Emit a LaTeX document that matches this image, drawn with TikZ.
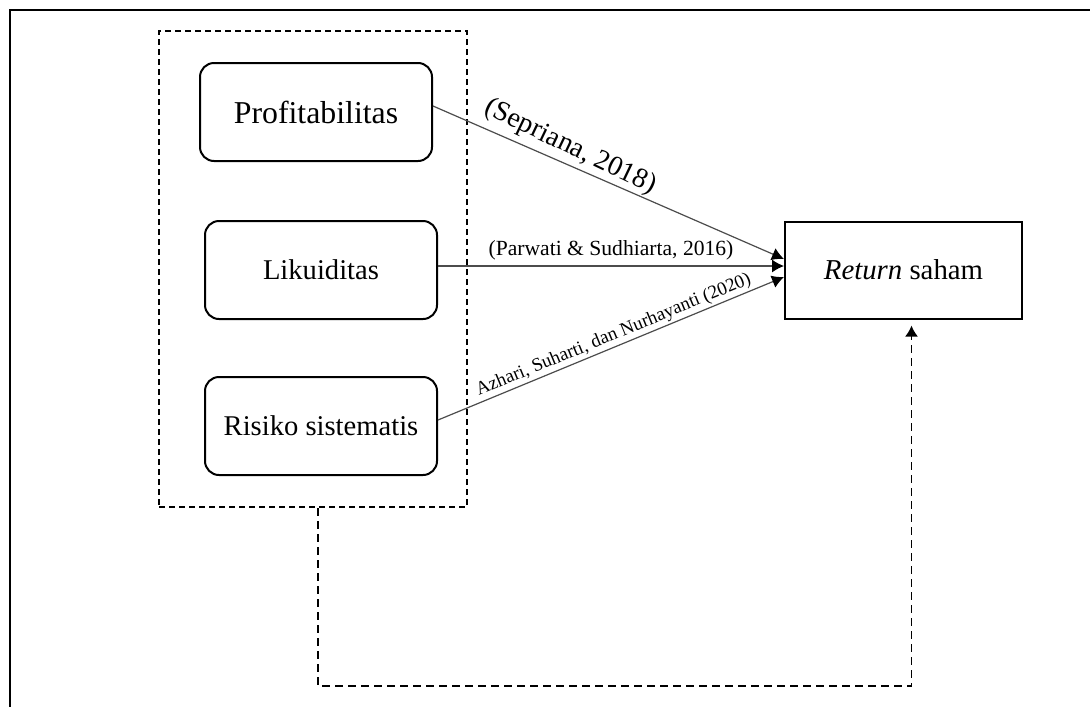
\documentclass[tikz,border=0pt]{standalone}
\usepackage{fontspec}
\setmainfont{Liberation Serif}
\usetikzlibrary{positioning}
\usetikzlibrary{arrows.meta, fit}

\begin{document}
\begin{tikzpicture}[x=0.5pt, y=-0.5pt,
  varbox/.style={rectangle, rounded corners=7pt, draw, line width=1pt, minimum width=116pt, minimum height=49pt, font=\fontsize{14.3}{17}\selectfont},
  resbox/.style={rectangle, draw, line width=1pt, minimum width=118.5pt, minimum height=48.5pt, font=\fontsize{14.4}{17}\selectfont},
  grpbox/.style={rectangle, draw, line width=1pt, dash pattern=on 3pt off 2pt},
  link/.style={draw=black!70, line width=0.6pt, -{Latex[length=6pt, width=6.5pt, color=black]}},
  feedback/.style={line width=0.9pt, dash pattern=on 4pt off 2.5pt, -{Latex[length=5.5pt, width=6.5pt]}},
  cite/.style={inner sep=1pt, text=black}]

\useasboundingbox (0,0) rectangle (1090,707);
\draw[line width=1pt] (1090,10) -- (10,10) -- (10,707);

% Nodes
\node[varbox, font=\fontsize{15.9}{18}\selectfont] (prof) at (316,112) {Profitabilitas};
\node[varbox, below=29pt of prof, xshift=2.5pt] (liq) {Likuiditas};
\node[varbox, below=28pt of liq] (risk) {Risiko sistematis};
\node[resbox, right=173pt of liq] (res) {\textit{Return} saham};
\node[grpbox, fit=(prof)(liq)(risk), inner xsep=17.25pt, inner ysep=15.5pt, xshift=-2.75pt] (grp) {};

% Arrows
\draw[link] ([yshift=3pt]prof.east) -- ([yshift=5.5pt]res.west)
  node[cite, sloped, above, pos=0.37, inner sep=2pt, rotate=-2, font=\fontsize{14}{16}\selectfont] {(Sepriana, 2018)};
\draw[link] ([yshift=2pt]liq.east) -- ([yshift=2pt]res.west)
  node[cite, above, midway, inner sep=2.5pt, font=\fontsize{10.8}{13}\selectfont] {(Parwati \& Sudhiarta, 2016)};
\draw[link] ([yshift=3pt]risk.east) -- ([yshift=-3.5pt]res.west)
  node[cite, sloped, above, pos=0.52, font=\fontsize{9.4}{12}\selectfont] {Azhari, Suharti, dan Nurhayanti (2020)};
\draw[feedback] ([xshift=2.5pt]grp.south) -- ++(0pt,-89pt) -| ([xshift=4pt, yshift=-3pt]res.south);

\end{tikzpicture}
\end{document}
